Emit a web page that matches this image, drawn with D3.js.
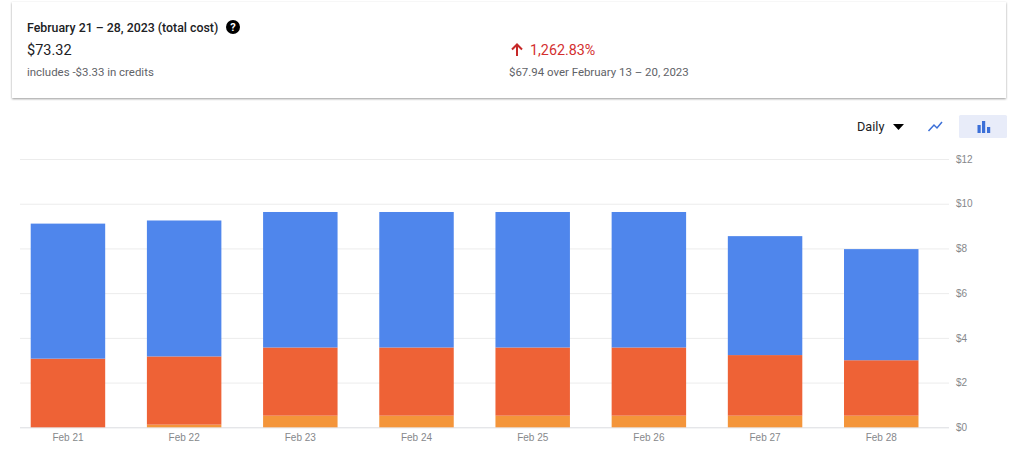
<!DOCTYPE html>
<html>
<head>
<meta charset="utf-8">
<script src="https://cdn.jsdelivr.net/npm/d3@7"></script>
<style>
html, body { margin: 0; padding: 0; background: #fff; overflow: hidden; }
svg { display: block; font-family: Roboto, sans-serif; }
.axis text { font-family: "Liberation Sans", sans-serif; font-size: 10px; fill: #86888b; }
</style>
</head>
<body>
<script>
var days = ["Feb 21", "Feb 22", "Feb 23", "Feb 24", "Feb 25", "Feb 26", "Feb 27", "Feb 28"];
var orangeCost = [0, 0.12, 0.52, 0.52, 0.52, 0.52, 0.52, 0.52];
var redCost = [3.07, 3.05, 3.05, 3.05, 3.05, 3.05, 2.71, 2.48];
var blueCost = [6.04, 6.08, 6.06, 6.06, 6.06, 6.06, 5.32, 4.97];
var yTicks = [0, 2, 4, 6, 8, 10, 12];
var seriesNames = ["orange", "red", "blue"];
var seriesColors = ["#f4953a", "#ee6236", "#4f86ec"];

var width = 1024, height = 459;
var svg = d3.select("body").append("svg").attr("width", width).attr("height", height);

// summary card
var defs = svg.append("defs");
var shadow = defs.append("filter").attr("id", "cardShadow")
    .attr("x", "-2%").attr("y", "-10%").attr("width", "104%").attr("height", "125%");
shadow.append("feDropShadow").attr("dx", 0).attr("dy", 1).attr("stdDeviation", 1.2)
    .attr("flood-color", "#000").attr("flood-opacity", 0.4);
svg.append("rect").attr("x", 12).attr("y", 2).attr("width", 994).attr("height", 96)
    .attr("fill", "#fff").attr("filter", "url(#cardShadow)");

function label(x, y, str, size, color, weight) {
    return svg.append("text").attr("x", x).attr("y", y).text(str)
        .attr("font-size", size).attr("fill", color).attr("font-weight", weight || 400);
}
label(27, 32, "February 21 \u2013 28, 2023 (total cost)", 12.35, "#202124", 500);
label(27, 55, "$73.32", 14.5, "#202124");
label(27, 75.5, "includes -$3.33 in credits", 11.45, "#5f6368");
label(530, 55, "1,262.83%", 14.3, "#d32f2f");
label(509, 75.5, "$67.94 over February 13 \u2013 20, 2023", 11.45, "#5f6368");

// help icon
svg.append("circle").attr("cx", 233).attr("cy", 27).attr("r", 7).attr("fill", "#000");
svg.append("text").attr("x", 233).attr("y", 31).attr("text-anchor", "middle")
    .attr("font-size", 11).attr("font-weight", 700).attr("fill", "#fff").text("?");

// up arrow
svg.append("path").attr("d", "M517 56V45M512 49.5L517 44.5L522 49.5")
    .attr("fill", "none").attr("stroke", "#c62828").attr("stroke-width", 2);

// toolbar
label(857, 131, "Daily", 12.7, "#202124");
svg.append("path").attr("d", "M893 124H904L898.5 130Z").attr("fill", "#000");
svg.append("path").attr("d", "M928.5 131L934 125L937 128L942 122")
    .attr("fill", "none").attr("stroke", "#3b6fd8").attr("stroke-width", 1.5);
svg.append("rect").attr("x", 959).attr("y", 115).attr("width", 48).attr("height", 23)
    .attr("rx", 1.5).attr("fill", "#e8ecf9");
svg.append("g").attr("fill", "#3b6fd8").selectAll("rect")
    .data([[977.5, 8], [982, 12], [987, 6]]).enter().append("rect")
    .attr("x", function (d) { return d[0]; })
    .attr("y", function (d) { return 133 - d[1]; })
    .attr("width", 3.2)
    .attr("height", function (d) { return d[1]; });

// chart
var y = d3.scaleLinear().domain([0, 12]).range([427.3, 159]);
var x = d3.scaleBand().domain(days).range([9.8, 939.4]).paddingInner(0.359).paddingOuter(0.18);

var yAxis = d3.axisRight(y).tickValues(yTicks).tickSize(929).tickFormat(function (d) { return "$" + d; });
var yG = svg.append("g").attr("class", "axis").attr("transform", "translate(20,0)").call(yAxis);
yG.select(".domain").remove();
yG.selectAll(".tick line").attr("stroke", function (d) { return d === 0 ? "#dadce0" : "#ececec"; });
yG.selectAll(".tick text").attr("x", 936).attr("dy", "0.32em");

var rows = days.map(function (d, i) {
    return { day: d, orange: orangeCost[i], red: redCost[i], blue: blueCost[i] };
});
var stacked = d3.stack().keys(seriesNames)(rows);
var color = d3.scaleOrdinal().domain(seriesNames).range(seriesColors);

svg.append("g").selectAll("g").data(stacked).enter().append("g")
    .attr("fill", function (s) { return color(s.key); })
    .selectAll("rect").data(function (s) { return s; }).enter().append("rect")
    .attr("x", function (d) { return x(d.data.day); })
    .attr("y", function (d) { return y(d[1]); })
    .attr("width", x.bandwidth())
    .attr("height", function (d) { return y(d[0]) - y(d[1]); });

var xAxis = d3.axisBottom(x).tickSize(0).tickPadding(7);
var xG = svg.append("g").attr("class", "axis").attr("transform", "translate(0,427.3)").call(xAxis);
xG.select(".domain").remove();
</script>
</body>
</html>
